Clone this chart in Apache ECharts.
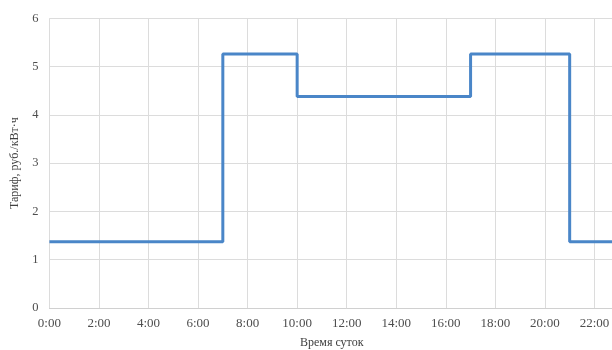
<!DOCTYPE html>
<html>
<head>
<meta charset="utf-8">
<script src="https://cdn.jsdelivr.net/npm/echarts@6/dist/echarts.min.js"></script>
<style>
  html, body { margin: 0; padding: 0; background: #fff; overflow: hidden; width: 612px; height: 350px; }
  /* the plot runs on past the right edge of the page, which cuts the last hours off */
  #chart { width: 690px; height: 350px; }
</style>
</head>
<body>
<div id="chart"></div>
<script>
// Tariff schedule over the day: hour at which each rate begins, and the rate (руб./кВт·ч)
const hours = [0, 7, 10, 17, 21, 24];
const tariff = [1.37, 5.26, 4.38, 5.26, 1.37, 1.37];
const yTicks = [0, 1, 2, 3, 4, 5, 6];

const xAxisTitle = 'Время суток';
const yAxisTitle = 'Тариф, руб./кВт·ч';

const seriesData = hours.map((h, i) => [h, tariff[i]]);
const font = '"Liberation Serif", "Times New Roman", serif';
const gridColor = '#dcdcdc';

const chart = echarts.init(document.getElementById('chart'));
chart.setOption({
  animation: false,
  backgroundColor: '#ffffff',
  grid: { left: 49.4, right: 46, top: 18.3, bottom: 42 },
  xAxis: {
    type: 'value',
    min: 0,
    max: 24,
    interval: 2,
    axisLine: { show: true, lineStyle: { color: '#d0d0d0', width: 1 } },
    axisTick: { show: false },
    splitLine: { show: true, lineStyle: { color: gridColor, width: 1 } },
    axisLabel: {
      color: '#4d4d4d',
      fontFamily: font,
      fontSize: 13,
      margin: 9,
      formatter: v => v + ':00'
    }
  },
  yAxis: {
    type: 'value',
    min: yTicks[0],
    max: yTicks[yTicks.length - 1],
    interval: 1,
    name: yAxisTitle,
    nameLocation: 'middle',
    nameGap: 24,
    nameTextStyle: { color: '#404040', fontFamily: font, fontSize: 12 },
    axisLine: { show: false },
    axisTick: { show: false },
    splitLine: { show: true, lineStyle: { color: gridColor, width: 1 } },
    axisLabel: {
      color: '#4d4d4d',
      fontFamily: font,
      fontSize: 12.5,
      margin: 11
    }
  },
  graphic: [{
    type: 'text',
    left: 300,
    top: 337,
    style: {
      text: xAxisTitle,
      fill: '#404040',
      font: '12px ' + font
    }
  }],
  series: [{
    type: 'line',
    step: 'end',
    data: seriesData,
    showSymbol: false,
    lineStyle: { color: '#4a86c8', width: 3 },
    itemStyle: { color: '#4a86c8' }
  }]
});
</script>
</body>
</html>
